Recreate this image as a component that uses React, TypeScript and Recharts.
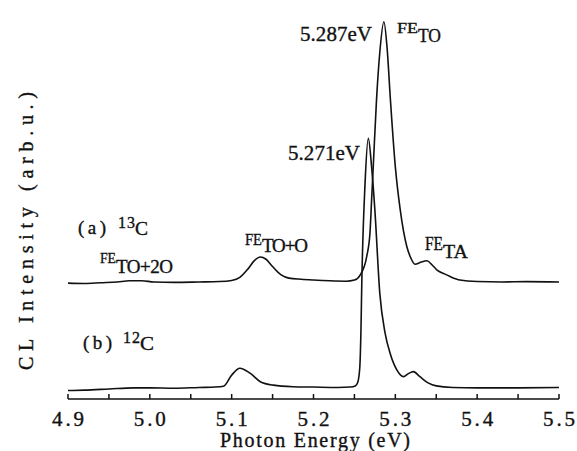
import React from 'react';
import { LineChart, Line, XAxis, YAxis } from 'recharts';

// x axis ticks (eV): labelled majors and unlabelled minors
const majorTicks = [4.9, 5.0, 5.1, 5.2, 5.3, 5.4, 5.5];
const majorLabels = ['4.9', '5.0', '5.1', '5.2', '5.3', '5.4', '5.5'];
const minorTicks = [4.95, 5.05, 5.15, 5.25, 5.35, 5.45];

// (a) 13C spectrum, offset upward
const energy13C = [
  4.9, 4.92, 4.94, 4.96, 4.975, 4.99, 5.005, 5.03, 5.06, 5.085, 5.1, 5.11, 5.12, 5.128, 5.135,
  5.142, 5.15, 5.16, 5.17, 5.185, 5.2, 5.22, 5.24, 5.25, 5.257, 5.265, 5.269, 5.271, 5.273,
  5.277, 5.281, 5.286, 5.29, 5.294, 5.3, 5.306, 5.314, 5.319, 5.324, 5.331, 5.3385, 5.345,
  5.351, 5.36, 5.367, 5.379, 5.4, 5.43, 5.46, 5.5,
];
const intensity13C = [
  30.1, 30.0, 30.2, 30.4, 30.7, 30.7, 30.4, 30.3, 30.4, 30.5, 30.8, 31.6, 33.8, 36.0, 36.9,
  36.3, 34.4, 32.3, 31.4, 31.1, 30.9, 30.7, 30.6, 30.9, 32.2, 37.0, 43.1, 51.7, 60.3,
  77.7, 90.0, 98.0, 91.0, 77.7, 60.3, 49.1, 39.6, 36.6, 35.0, 35.5, 35.9, 34.8,
  33.5, 32.5, 31.8, 30.9, 30.5, 30.4, 30.5, 30.4,
];

// (b) 12C spectrum
const energy12C = [
  4.9, 4.92, 4.95, 4.98, 5.0, 5.03, 5.06, 5.08, 5.09, 5.1, 5.11, 5.1225, 5.135, 5.151, 5.175,
  5.2, 5.23, 5.245, 5.251, 5.254, 5.2565, 5.258, 5.259, 5.263, 5.267, 5.271, 5.275, 5.281,
  5.2875, 5.2936, 5.302, 5.31, 5.316, 5.322, 5.33, 5.34, 5.35, 5.37, 5.4, 5.45, 5.5,
];
const intensity12C = [
  2.2, 2.3, 2.6, 2.9, 2.9, 2.8, 3.0, 3.1, 3.3, 6.2, 8.0, 6.7, 4.5, 3.6, 3.2,
  3.1, 3.0, 3.1, 3.4, 4.3, 8.0, 18.0, 30.0, 56.0, 67.7, 60.3, 49.1, 27.5,
  17.1, 11.9, 7.5, 5.8, 6.6, 7.1, 5.8, 4.2, 3.4, 3.0, 2.9, 2.9, 3.0,
];

const data13C = energy13C.map((e, i) => ({ e, v: intensity13C[i] }));
const data12C = energy12C.map((e, i) => ({ e, v: intensity12C[i] }));
const allTicks = [...majorTicks, ...minorTicks].sort((a, b) => a - b);

const W = 577;
const H = 451;
const ink = '#111';
const font = "'Liberation Serif', 'DejaVu Serif', serif";

const BottomTick = (props: any) => {
  const { x, y, payload } = props;
  const idx = majorTicks.indexOf(payload.value);
  return (
    <g>
      <line x1={x} y1={y} x2={x} y2={y - 5} stroke={ink} strokeWidth={1.5} />
      {idx >= 0 && (
        <text x={x} y={y + 27} textAnchor="middle" fontFamily={font} fontSize={21}
          fill={ink} stroke={ink} strokeWidth={0.35} textLength={32} lengthAdjust="spacing">
          {majorLabels[idx]}
        </text>
      )}
    </g>
  );
};

const TopTick = (props: any) => {
  const { x, y } = props;
  return <line x1={x} y1={y} x2={x} y2={y + 5} stroke={ink} strokeWidth={1.5} />;
};

// one piece of label text, fitted to the width it has in the figure
const T = ({ x, y, size, len, wide, children }:
  { x: number; y: number; size: number; len: number; wide?: boolean; children: string }) => (
  <text x={x} y={y} fontFamily={font} fontSize={size} fill={ink} stroke={ink} strokeWidth={0.35}
    textLength={len} lengthAdjust={wide ? 'spacingAndGlyphs' : 'spacing'}>
    {children}
  </text>
);

export default function App() {
  return (
    <div style={{ position: 'absolute', left: 0, top: 0, width: W, height: H, background: '#fff' }}>
      <LineChart width={W} height={H} margin={{ top: 14, right: 18, bottom: 0, left: 68 }}>
        <XAxis xAxisId="bottom" type="number" dataKey="e" domain={[4.9, 5.5]} ticks={allTicks}
          allowDataOverflow height={52} tickSize={0} tickMargin={0} tickLine={false}
          axisLine={{ stroke: ink, strokeWidth: 1.5 }} tick={<BottomTick />} interval={0} />
        <XAxis xAxisId="top" orientation="top" type="number" dataKey="e" domain={[4.9, 5.5]}
          ticks={allTicks} allowDataOverflow height={0} tickSize={0} tickMargin={0} tickLine={false}
          axisLine={{ stroke: ink, strokeWidth: 1.5 }} tick={<TopTick />} interval={0} />
        <YAxis yAxisId="left" type="number" domain={[0, 100]} width={0} tick={false}
          axisLine={{ stroke: ink, strokeWidth: 1.5 }} />
        <YAxis yAxisId="right" orientation="right" type="number" domain={[0, 100]} width={0}
          tick={false} axisLine={{ stroke: ink, strokeWidth: 1.5 }} />
        <Line xAxisId="bottom" yAxisId="left" data={data13C} dataKey="v" type="monotone"
          stroke={ink} strokeWidth={1.6} dot={false} isAnimationActive={false} />
        <Line xAxisId="bottom" yAxisId="left" data={data12C} dataKey="v" type="monotone"
          stroke={ink} strokeWidth={1.6} dot={false} isAnimationActive={false} />
      </LineChart>
      <svg width={W} height={H} style={{ position: 'absolute', left: 0, top: 0, pointerEvents: 'none' }}>
        <T x={220} y={447} size={20} len={190}>Photon Energy (eV)</T>
        <g transform="translate(33,370) rotate(-90)">
          <T x={0} y={0} size={20} len={278}>CL Intensity (arb.u.)</T>
        </g>
        <T x={300} y={41} size={21} len={72}>5.287eV</T>
        <T x={397} y={33} size={14} len={21} wide>FE</T>
        <T x={418} y={42} size={19} len={23} wide>TO</T>
        <T x={288} y={160} size={21} len={72}>5.271eV</T>
        <T x={78} y={234} size={19} len={28}>(a)</T>
        <T x={118} y={228} size={16} len={17}>13</T>
        <T x={135} y={235} size={19} len={13} wide>C</T>
        <T x={100} y={263} size={15} len={16} wide>FE</T>
        <T x={116} y={273} size={19} len={57}>TO+2O</T>
        <T x={245} y={245} size={16} len={17} wide>FE</T>
        <T x={262} y={252} size={19} len={46}>TO+O</T>
        <T x={425} y={250} size={18} len={18} wide>FE</T>
        <T x={443} y={258} size={19} len={25} wide>TA</T>
        <T x={83} y={349} size={19} len={29}>(b)</T>
        <T x={123} y={343} size={16} len={17}>12</T>
        <T x={140} y={350} size={19} len={14} wide>C</T>
      </svg>
    </div>
  );
}
